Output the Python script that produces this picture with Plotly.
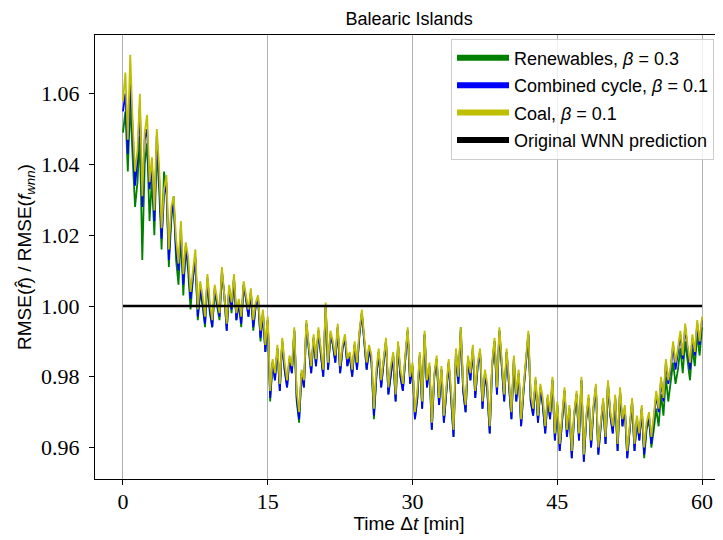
import plotly.graph_objects as go

# time step 0.25 min, 0..60
time_min = [i * 0.25 for i in range(241)]

coal = [
    1.058, 1.066, 1.047, 1.071,
    1.052, 1.038, 1.044, 1.060,
    1.031, 1.049, 1.054, 1.035,
    1.042, 1.027, 1.050, 1.039,
    1.022, 1.033, 1.037, 1.016,
    1.028, 1.031, 1.019, 1.012,
    1.024, 1.009, 1.018, 1.014,
    1.004, 1.011, 1.016, 0.999,
    1.007, 1.003, 0.997, 1.009,
    1.001, 0.996, 1.006, 1.002,
    0.998, 1.011, 1.004, 0.995,
    1.006, 1.001, 1.009, 0.998,
    1.002, 0.997, 1.007, 1.003,
    0.999, 1.005, 0.996, 1.001,
    1.003, 0.993, 0.999, 0.989,
    0.997, 0.976, 0.985, 0.981,
    0.989, 0.978, 0.991, 0.984,
    0.979, 0.986, 0.983, 0.994,
    0.976, 0.970, 0.982, 0.979,
    0.996, 0.989, 0.983, 0.992,
    0.985, 0.994, 0.988, 0.982,
    1.001, 0.984, 0.993, 0.990,
    0.986, 0.995, 0.983, 0.989,
    0.992, 0.985, 0.987, 0.982,
    0.990, 0.984, 0.993, 0.999,
    0.991, 0.984, 0.989, 0.986,
    0.971, 0.982, 0.988, 0.979,
    0.985, 0.991, 0.977, 0.983,
    0.987, 0.975, 0.990, 0.982,
    0.978, 0.986, 0.994, 0.980,
    0.984, 0.970, 0.976, 0.987,
    0.973, 0.993, 0.979, 0.984,
    0.967, 0.981, 0.986, 0.974,
    0.983, 0.969, 0.977, 0.985,
    0.976, 0.965, 0.988, 0.980,
    0.994, 0.978, 0.972, 0.986,
    0.981, 0.989, 0.976, 0.984,
    0.988, 0.973, 0.982, 0.978,
    0.966, 0.984, 0.991, 0.977,
    0.994, 0.983, 0.975, 0.988,
    0.979, 0.970, 0.986, 0.975,
    0.982, 0.968, 0.977, 0.984,
    0.993, 0.975, 0.971, 0.980,
    0.969, 0.978, 0.974, 0.966,
    0.975, 0.970, 0.980, 0.964,
    0.973, 0.961, 0.968, 0.977,
    0.965, 0.972, 0.959, 0.970,
    0.976, 0.964, 0.980, 0.958,
    0.969, 0.975, 0.962, 0.972,
    0.978, 0.960, 0.967, 0.974,
    0.963, 0.979, 0.970, 0.966,
    0.975, 0.961, 0.977, 0.968,
    0.972, 0.959, 0.966, 0.974,
    0.961, 0.969, 0.964, 0.972,
    0.960, 0.967, 0.970, 0.963,
    0.969, 0.976, 0.971, 0.980,
    0.974, 0.985, 0.979, 0.983,
    0.990, 0.984, 0.988, 0.993,
    0.986, 0.995, 0.989, 0.984,
    0.992, 0.987, 0.996, 0.990,
    0.997,
]

combined_cycle = [
    1.055, 1.060, 1.043, 1.064,
    1.050, 1.034, 1.041, 1.057,
    1.028, 1.047, 1.050, 1.033,
    1.040, 1.024, 1.048, 1.036,
    1.019, 1.031, 1.035, 1.013,
    1.026, 1.029, 1.016, 1.010,
    1.022, 1.006, 1.016, 1.012,
    1.002, 1.009, 1.014, 0.997,
    1.005, 1.001, 0.995, 1.008,
    0.999, 0.994, 1.005, 1.001,
    0.997, 1.010, 1.003, 0.993,
    1.005, 0.999, 1.008, 0.996,
    1.001, 0.995, 1.006, 1.002,
    0.997, 1.004, 0.994, 1.000,
    1.002, 0.991, 0.998, 0.987,
    0.996, 0.974, 0.984, 0.979,
    0.988, 0.976, 0.990, 0.982,
    0.977, 0.985, 0.981, 0.993,
    0.974, 0.968, 0.981, 0.977,
    0.995, 0.988, 0.981, 0.991,
    0.983, 0.993, 0.987, 0.980,
    1.000, 0.982, 0.992, 0.989,
    0.984, 0.994, 0.981, 0.988,
    0.991, 0.983, 0.986, 0.980,
    0.989, 0.982, 0.992, 0.998,
    0.990, 0.982, 0.988, 0.984,
    0.969, 0.980, 0.987, 0.977,
    0.984, 0.990, 0.975, 0.981,
    0.986, 0.973, 0.989, 0.980,
    0.976, 0.985, 0.993, 0.978,
    0.983, 0.968, 0.974, 0.986,
    0.971, 0.992, 0.977, 0.983,
    0.965, 0.980, 0.985, 0.972,
    0.982, 0.967, 0.976, 0.984,
    0.974, 0.963, 0.987, 0.978,
    0.993, 0.976, 0.970, 0.985,
    0.979, 0.988, 0.974, 0.983,
    0.987, 0.971, 0.981, 0.976,
    0.964, 0.983, 0.990, 0.975,
    0.993, 0.982, 0.973, 0.987,
    0.978, 0.968, 0.985, 0.973,
    0.981, 0.966, 0.976, 0.983,
    0.992, 0.973, 0.969, 0.979,
    0.967, 0.977, 0.972, 0.964,
    0.974, 0.968, 0.979, 0.962,
    0.972, 0.959, 0.967, 0.976,
    0.963, 0.971, 0.957, 0.969,
    0.975, 0.962, 0.979, 0.956,
    0.968, 0.974, 0.960, 0.971,
    0.977, 0.958, 0.966, 0.973,
    0.961, 0.978, 0.969, 0.964,
    0.974, 0.959, 0.976, 0.966,
    0.971, 0.957, 0.965, 0.973,
    0.959, 0.968, 0.962, 0.971,
    0.958, 0.966, 0.969, 0.961,
    0.968, 0.975, 0.970, 0.979,
    0.973, 0.984, 0.978, 0.982,
    0.989, 0.982, 0.987, 0.992,
    0.985, 0.994, 0.988, 0.982,
    0.991, 0.986, 0.995, 0.989,
    0.996,
]

renewables = [
    1.049, 1.055, 1.038, 1.058,
    1.042, 1.028, 1.035, 1.048,
    1.013, 1.040, 1.046, 1.024,
    1.036, 1.020, 1.044, 1.033,
    1.016, 1.038, 1.033, 1.011,
    1.024, 1.031, 1.013, 1.006,
    1.020, 1.003, 1.017, 1.010,
    0.999, 1.008, 1.013, 0.996,
    1.004, 1.000, 0.994, 1.007,
    0.998, 0.994, 1.004, 1.000,
    0.996, 1.009, 1.003, 0.993,
    1.005, 0.998, 1.008, 0.996,
    1.001, 0.994, 1.006, 1.002,
    0.997, 1.004, 0.993, 1.000,
    1.002, 0.990, 0.998, 0.987,
    0.996, 0.973, 0.984, 0.979,
    0.988, 0.976, 0.990, 0.982,
    0.977, 0.985, 0.981, 0.993,
    0.973, 0.967, 0.981, 0.977,
    0.995, 0.988, 0.981, 0.991,
    0.983, 0.993, 0.987, 0.980,
    1.000, 0.982, 0.992, 0.989,
    0.984, 0.994, 0.981, 0.988,
    0.991, 0.983, 0.986, 0.980,
    0.989, 0.982, 0.992, 0.998,
    0.990, 0.982, 0.988, 0.984,
    0.968, 0.980, 0.987, 0.977,
    0.984, 0.990, 0.975, 0.981,
    0.986, 0.973, 0.989, 0.980,
    0.976, 0.985, 0.993, 0.978,
    0.983, 0.968, 0.974, 0.986,
    0.971, 0.992, 0.977, 0.983,
    0.965, 0.980, 0.985, 0.972,
    0.982, 0.967, 0.976, 0.984,
    0.974, 0.963, 0.987, 0.978,
    0.994, 0.976, 0.970, 0.985,
    0.979, 0.988, 0.974, 0.983,
    0.987, 0.971, 0.981, 0.976,
    0.964, 0.983, 0.990, 0.975,
    0.993, 0.982, 0.973, 0.987,
    0.978, 0.968, 0.985, 0.973,
    0.981, 0.966, 0.976, 0.983,
    0.992, 0.973, 0.969, 0.979,
    0.967, 0.977, 0.972, 0.964,
    0.974, 0.968, 0.979, 0.962,
    0.972, 0.959, 0.967, 0.976,
    0.963, 0.971, 0.957, 0.969,
    0.975, 0.962, 0.979, 0.956,
    0.968, 0.974, 0.960, 0.971,
    0.977, 0.958, 0.966, 0.973,
    0.961, 0.978, 0.969, 0.964,
    0.974, 0.959, 0.976, 0.966,
    0.971, 0.957, 0.965, 0.973,
    0.959, 0.968, 0.962, 0.971,
    0.957, 0.965, 0.968, 0.960,
    0.965, 0.971, 0.966, 0.975,
    0.969, 0.980, 0.973, 0.978,
    0.984, 0.978, 0.982, 0.988,
    0.981, 0.990, 0.984, 0.979,
    0.988, 0.983, 0.992, 0.986,
    0.994,
]

baseline_t = [0, 60]
baseline = [1.0, 1.0]

x_ticks = [0, 15, 30, 45, 60]
y_ticks = [0.96, 0.98, 1.00, 1.02, 1.04, 1.06]
y_tick_labels = ["0.96", "0.98", "1.00", "1.02", "1.04", "1.06"]

GREEN = "#008000"
BLUE = "#0000ff"
YELLOW = "#bfbf00"

legend_names = [
    ("Renewables, <i>β</i> = 0.3", GREEN),
    ("Combined cycle, <i>β</i> = 0.1", BLUE),
    ("Coal, <i>β</i> = 0.1", YELLOW),
    ("Original WNN prediction", "black"),
]

fig = go.Figure()
fig.add_trace(go.Scatter(x=time_min, y=renewables, mode="lines",
                         line=dict(color=GREEN, width=1.8), showlegend=False))
fig.add_trace(go.Scatter(x=time_min, y=combined_cycle, mode="lines",
                         line=dict(color=BLUE, width=1.8), showlegend=False))
fig.add_trace(go.Scatter(x=time_min, y=coal, mode="lines",
                         line=dict(color=YELLOW, width=1.8), showlegend=False))
fig.add_trace(go.Scatter(x=baseline_t, y=baseline, mode="lines",
                         line=dict(color="black", width=2.5), showlegend=False))

for i, (name, col) in enumerate(legend_names):
    fig.add_trace(go.Scatter(x=[None], y=[None], mode="lines", name=name,
                             legendgroup="g%d" % i,
                             line=dict(color=col, width=6)))

# the page body has an 8px margin; figure is sized so the plot lands where the reference has it
fig.update_layout(
    width=715, height=532,
    margin=dict(l=87, r=0, t=27, b=61),
    paper_bgcolor="white", plot_bgcolor="white",
    font=dict(family="Liberation Sans, Arial, sans-serif", color="black", size=17),
    title=dict(text="Balearic Islands", x=0.561, xanchor="center",
               y=0.979, yanchor="middle", yref="container",
               font=dict(size=18)),
    legend=dict(x=0.9857, y=0.992, xanchor="right", yanchor="top",
                bgcolor="rgba(255,255,255,0.8)", bordercolor="#cccccc",
                borderwidth=1, font=dict(size=18), itemwidth=52,
                tracegroupgap=1),
    showlegend=True,
)
fig.update_xaxes(
    range=[-2.9, 62.17], tickvals=x_ticks, ticktext=[str(v) for v in x_ticks],
    automargin=False,
    showgrid=True, gridcolor="#b0b0b0", gridwidth=1, zeroline=False,
    showline=True, linecolor="black", linewidth=1.2, mirror=True,
    ticks="outside", ticklen=5, tickcolor="black",
    ticklabelstandoff=-3,
    tickfont=dict(family="Liberation Serif, Times New Roman, serif", size=22),
    title=dict(text="Time Δ<i>t</i> [min]", standoff=4, font=dict(size=19)),
)
fig.update_yaxes(
    range=[0.9511, 1.0766], tickvals=y_ticks, ticktext=y_tick_labels,
    automargin=False,
    showgrid=False, zeroline=False,
    showline=True, linecolor="black", linewidth=1.2, mirror=True,
    ticks="outside", ticklen=5, tickcolor="black",
    ticklabelstandoff=5,
    tickfont=dict(family="Liberation Serif, Times New Roman, serif", size=22),
    title=dict(text="RMSE(<i>f̂</i>) / RMSE(<i>f</i><sub><i>wnn</i></sub>)",
               standoff=4, font=dict(size=19)),
)

fig.write_html("out.html")
